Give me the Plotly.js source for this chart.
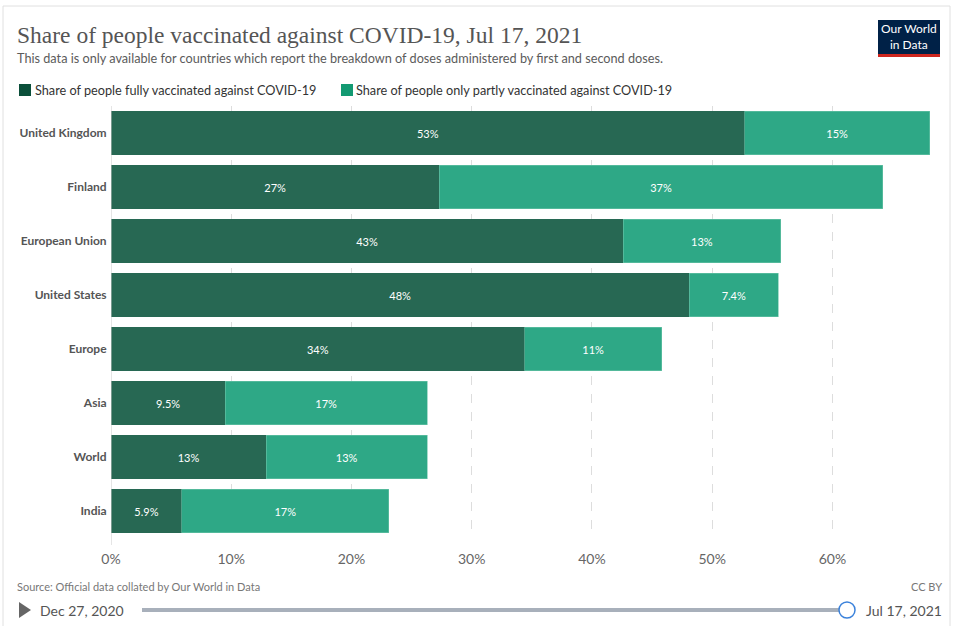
<!DOCTYPE html>
<html>
<head>
<meta charset="utf-8">
<script src="https://cdn.plot.ly/plotly-3.0.1.min.js"></script>
<style>
html,body{margin:0;padding:0;background:#fff;}
#chart{width:957px;height:626px;}
</style>
</head>
<body>
<div id="chart"></div>
<script>
const categories = ["United Kingdom","Finland","European Union","United States","Europe","Asia","World","India"];
const fullyVaccinated = [52.7, 27.3, 42.6, 48.1, 34.4, 9.5, 12.9, 5.9];
const partlyVaccinated = [15.4, 36.9, 13.1, 7.4, 11.4, 16.8, 13.4, 17.2];
const xTickValues = [0, 10, 20, 30, 40, 50, 60];
const xTickLabels = ["0%","10%","20%","30%","40%","50%","60%"];

const seriesNames = ["Share of people fully vaccinated against COVID-19","Share of people only partly vaccinated against COVID-19"];
const seriesColors = ["#276853", "#2ea886"];
const legendColors = ["#0b4f3a", "#139a72"];
const fmt = v => Number(v.toPrecision(2)) + "%";

const W = 957, H = 626, L = 111, R = 26, T = 106, B = 88;
const pw = W - L - R, ph = H - T - B;
const PX = x => (x - L) / pw;
const PY = y => (H - B - y) / ph;

const common = {
  type: "bar", orientation: "h", y: categories, width: 0.8,
  textposition: "inside", insidetextanchor: "middle",
  textfont: {family: "Lato", size: 11, color: "#ffffff"},
  constraintext: "none", hoverinfo: "none", cliponaxis: false, showlegend: false
};
const traces = [
  Object.assign({}, common, {
    name: seriesNames[0], x: fullyVaccinated, text: fullyVaccinated.map(fmt),
    marker: {color: seriesColors[0], line: {color: seriesColors[0], width: 0}}
  }),
  Object.assign({}, common, {
    name: seriesNames[1], x: partlyVaccinated, text: partlyVaccinated.map(fmt),
    marker: {color: seriesColors[1], line: {color: "#6cc4aa", width: 0.6}}
  })
];

const shapes = [
  // outer frame
  {type:"rect", xref:"paper", yref:"paper", x0:PX(3), x1:PX(950), y0:PY(6), y1:PY(640), line:{color:"#e0e0e0", width:1}, fillcolor:"rgba(0,0,0,0)", layer:"below"},
  // logo
  {type:"rect", xref:"paper", yref:"paper", x0:PX(878), x1:PX(940), y0:PY(20), y1:PY(54), line:{width:0}, fillcolor:"#002147"},
  {type:"rect", xref:"paper", yref:"paper", x0:PX(878), x1:PX(940), y0:PY(54), y1:PY(57), line:{width:0}, fillcolor:"#ce261e"},
  // legend swatches
  {type:"rect", xref:"paper", yref:"paper", x0:PX(19), x1:PX(31), y0:PY(84), y1:PY(96), line:{width:0}, fillcolor:legendColors[0]},
  {type:"rect", xref:"paper", yref:"paper", x0:PX(341), x1:PX(353), y0:PY(84), y1:PY(96), line:{width:0}, fillcolor:legendColors[1]},
  // timeline
  {type:"path", xref:"paper", yref:"paper",
   path:`M ${PX(19)} ${PY(602)} L ${PX(19)} ${PY(618)} L ${PX(31)} ${PY(610)} Z`,
   line:{width:0}, fillcolor:"#666"},
  {type:"line", xref:"paper", yref:"paper", x0:PX(142), x1:PX(846), y0:PY(610), y1:PY(610), line:{color:"#a8b0bb", width:4}},
  {type:"circle", xref:"paper", yref:"paper", x0:PX(839), x1:PX(855), y0:PY(602), y1:PY(618), line:{color:"#3b82db", width:1.5}, fillcolor:"#ffffff"},
  // zero line
  {type:"line", xref:"x", yref:"paper", x0:0, x1:0, y0:PY(545), y1:1, line:{color:"#cccccc", width:1}}
];

const ann = (x, y, text, size, color, family, xanchor, extra) => Object.assign({
  xref:"paper", yref:"paper", x:PX(x), y:PY(y), text, showarrow:false,
  xanchor: xanchor || "left", yanchor:"middle",
  borderpad: 0,
  font:{family: family || "Lato", size, color}
}, extra || {});

const annotations = [
  ann(16, 35, "Share of people vaccinated against COVID-19, Jul 17, 2021", 23.5, "#555555", "Liberation Serif"),
  ann(16, 58, "This data is only available for countries which report the breakdown of doses administered by first and second doses.", 12.7, "#5b5b5b"),
  ann(909, 37, "Our World<br>in Data", 12, "#ffffff", "Lato", "center", {align:"center"}),
  ann(34, 90, seriesNames[0], 12.7, "#333333"),
  ann(355, 90, seriesNames[1], 12.7, "#333333"),
  ann(16, 586, "Source: Official data collated by Our World in Data", 11, "#777777"),
  ann(943, 586, "CC BY", 11, "#777777", "Lato", "right"),
  ann(39, 610, "Dec 27, 2020", 14, "#555555"),
  ann(943, 610, "Jul 17, 2021", 14, "#555555", "Lato", "right")
];

const layout = {
  width: W, height: H,
  margin: {l: L, r: R, t: T, b: B, pad: 0, autoexpand: false},
  paper_bgcolor: "#ffffff", plot_bgcolor: "#ffffff",
  barmode: "stack", bargap: 0.2,
  font: {family: "Lato", color: "#555"},
  showlegend: false,
  xaxis: {range: [0, 68.2], tickvals: xTickValues, ticktext: xTickLabels, automargin: false,
          showgrid: true, gridcolor: "#dddddd", griddash: "dash", gridwidth: 1,
          zeroline: false, showline: false, ticks: "outside", ticklen: 8, tickcolor: "rgba(0,0,0,0)",
          tickfont: {family: "Lato", size: 14, color: "#666"}, fixedrange: true},
  yaxis: {categoryorder: "array", categoryarray: categories, autorange: "reversed", automargin: false,
          showgrid: false, zeroline: false, showline: false,
          ticks: "outside", ticklen: 1, tickcolor: "rgba(0,0,0,0)",
          tickfont: {family: "Lato", size: 12, color: "#555", weight: "bold"}, fixedrange: true},
  shapes,
  annotations
};

Plotly.newPlot("chart", traces, layout, {displayModeBar: false, staticPlot: true});
</script>
</body>
</html>
